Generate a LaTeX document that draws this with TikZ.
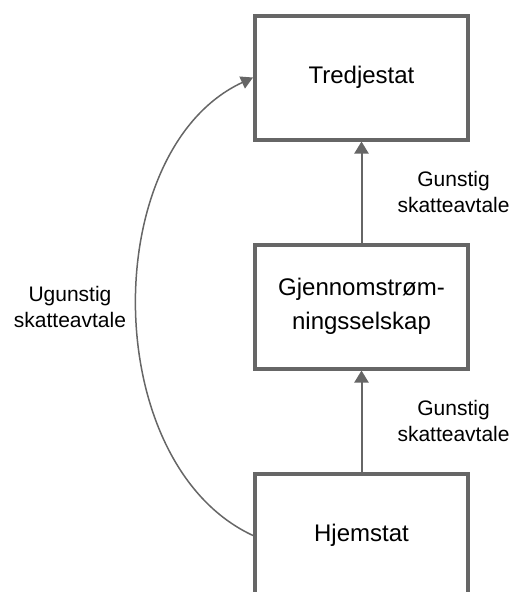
\documentclass[tikz,border=0pt]{standalone}
\usepackage{fontspec}
\setmainfont{Liberation Sans}
\usepackage{xcolor}
\usetikzlibrary{arrows.meta}
\usetikzlibrary{positioning}
\definecolor{linegray}{HTML}{666666}

\begin{document}
\begin{tikzpicture}[
    statebox/.style={draw=linegray, line width=4pt, minimum width=213pt, minimum height=124pt,
      inner sep=0pt, align=center, font=\fontsize{24}{34}\selectfont},
    flow/.style={draw=linegray, line width=2pt, -{Triangle[length=12pt,width=14pt]}},
    treaty/.style={inner sep=0pt, align=center, font=\fontsize{21}{26}\selectfont},
    node distance=101pt]
    \def\W{513pt}
    \def\H{592pt}
    \useasboundingbox (0,0) rectangle (\W,-\H);
    \clip (0,0) rectangle (\W,-\H);

    % STATES
    \node[statebox] (tredje) at (361.5pt,-77.5pt) {Tredjestat};
    \node[statebox, below=of tredje] (gjennom) {Gjennomstrøm-\\ningsselskap};
    \node[statebox, below=of gjennom] (hjem) {Hjemstat};

    % TREATIES
    \draw[flow] (gjennom.north) -- (tredje.south)
      node[treaty, midway, right=35pt] (gunstigA) {Gunstig\\skatteavtale};
    \draw[flow] (hjem.north) -- (gjennom.south)
      node[treaty, midway, right=35pt] (gunstigB) {Gunstig\\skatteavtale};
    \draw[draw=linegray, line width=1.5pt, -{Triangle[length=12pt,width=13pt]}]
      (hjem.west) .. controls +(-155pt,72pt) and +(-155pt,-72pt) .. (tredje.west)
      node[treaty, midway, left=10pt] (ugunstig) {Ugunstig\\skatteavtale};
\end{tikzpicture}
\end{document}
